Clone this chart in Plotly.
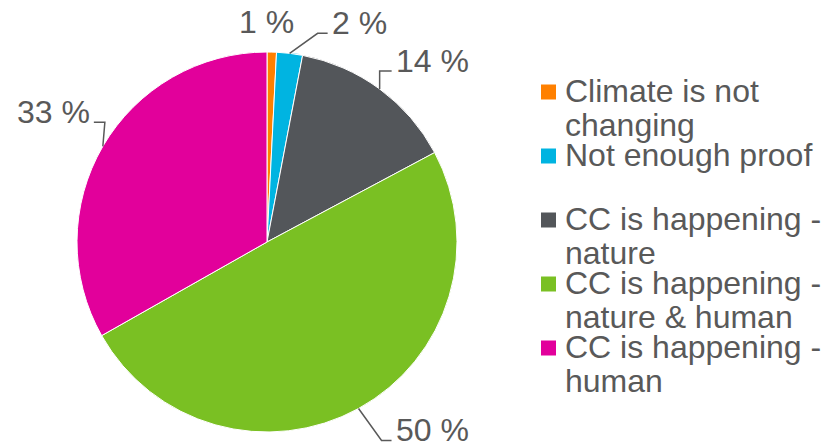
import numpy as np
import plotly.graph_objects as go

# ---- data ----
categories = ["Climate is not changing", "Not enough proof",
              "CC is happening - nature", "CC is happening - nature & human",
              "CC is happening - human"]
legend_lines = [["Climate is not", "changing"], ["Not enough proof"],
                ["CC is happening -", "nature"], ["CC is happening -", "nature & human"],
                ["CC is happening -", "human"]]
values = [0.8, 2.2, 14.2, 49.6, 33.2]
colors = ["#FF8000", "#00B4E1", "#53565A", "#7AC023", "#E2009B"]

# ---- layout constants (pixels) ----
W, H = 831, 444
CX, CY, R = 267, 242, 190
TXT = "#595959"
FONT = "Liberation Sans, Arial, sans-serif"
FS = 32

def px(x):
    return x / W

def py(y):
    return 1 - y / H

fig = go.Figure(go.Pie(
    labels=categories, values=values, sort=False, direction="clockwise",
    rotation=0, marker=dict(colors=colors, line=dict(color="white", width=1)),
    textinfo="none", hoverinfo="label+percent", showlegend=False,
    domain=dict(x=[px(CX - R), px(CX + R)], y=[py(CY + R), py(CY - R)]),
))

vals = np.array(values, dtype=float)
mid = (np.cumsum(vals) - vals / 2) / vals.sum() * 2 * np.pi
anchors_x = CX + R * np.sin(mid)
anchors_y = CY - R * np.cos(mid)

# per-label leader geometry: (elbow dx, elbow dy, horizontal run) ; None -> no leader
leaders = [None, (28, -20, 10), (0, -18, 12), (23, 32, 10), (2, -24, -11)]

shapes = []
annotations = []
for i, v in enumerate(values):
    label = f"{int(round(v))} %"
    ax_, ay_ = anchors_x[i], anchors_y[i]
    ld = leaders[i]
    if ld is None:
        tx, ty, xa = ax_ - 5, ay_ - 30, "center"
    else:
        ex, ey = ax_ + ld[0], ay_ + ld[1]
        fx = ex + ld[2]
        shapes.append(dict(type="path", xref="paper", yref="paper",
                           path=f"M {px(ax_)},{py(ay_)} L {px(ex)},{py(ey)} L {px(fx)},{py(ey)}",
                           line=dict(color=TXT, width=1.5)))
        if ld[2] >= 0:
            tx, xa = fx + 2, "left"
        else:
            tx, xa = fx - 2, "right"
        ty = ey - 10
    annotations.append(dict(x=px(tx), y=py(ty), xref="paper", yref="paper",
                            text=label, showarrow=False, xanchor=xa, yanchor="middle",
                            font=dict(family=FONT, size=FS, color=TXT)))

# ---- legend (manual, tight line spacing) ----
LEG_X, LEG_Y0, LEG_STEP, LINE_STEP, SQ = 541, 91, 64, 34, 15
for i, lines in enumerate(legend_lines):
    y0 = LEG_Y0 + i * LEG_STEP
    shapes.append(dict(type="rect", xref="paper", yref="paper",
                       x0=px(LEG_X), x1=px(LEG_X + SQ), y0=py(y0 - SQ / 2 + 1), y1=py(y0 + SQ / 2 + 1),
                       fillcolor=colors[i], line=dict(width=0)))
    for j, t in enumerate(lines):
        annotations.append(dict(x=px(LEG_X + SQ + 7), y=py(y0 + j * LINE_STEP),
                                xref="paper", yref="paper", text=t, showarrow=False,
                                xanchor="left", yanchor="middle",
                                font=dict(family=FONT, size=FS, color=TXT)))

fig.update_layout(width=W, height=H, margin=dict(l=0, r=0, t=0, b=0),
                  paper_bgcolor="white", plot_bgcolor="white",
                  shapes=shapes, annotations=annotations)
fig.write_html("out.html", config={"displayModeBar": False},
               post_script="document.body.style.margin='0';")
